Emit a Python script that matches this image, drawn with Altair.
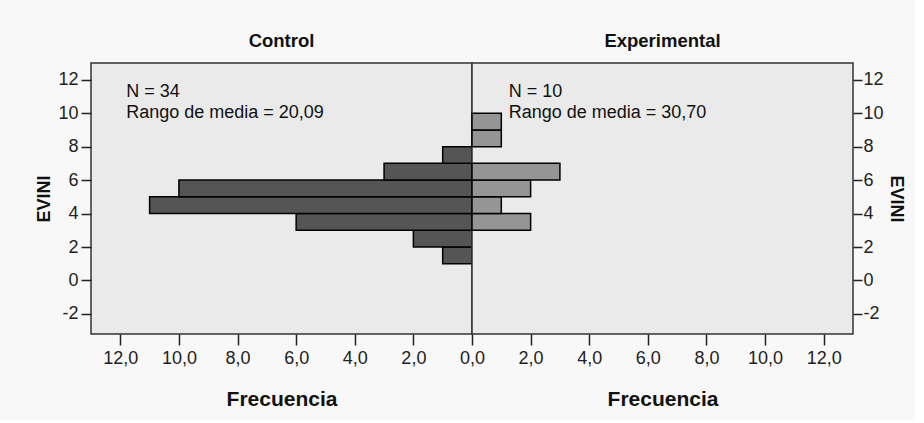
import altair as alt
import pandas as pd

# ---- data ----
control_bin_lo = [1, 2, 3, 4, 5, 6, 7]
control_freq = [1, 2, 6, 11, 10, 3, 1]
exp_bin_lo = [3, 4, 5, 6, 8, 9]
exp_freq = [2, 1, 2, 3, 1, 1]

panel_titles = ["Control", "Experimental"]
control_notes = ["N = 34", "Rango de media = 20,09"]
exp_notes = ["N = 10", "Rango de media = 30,70"]
note_y = 10.99          # baseline of the first note line (data units)
note_x_left = 11.8      # left edge of the note in the Control panel
note_x_right = 1.25     # left edge of the note in the Experimental panel

y_ticks = [-2, 0, 2, 4, 6, 8, 10, 12]
x_ticks = [0, 2, 4, 6, 8, 10, 12]

FONT = "Liberation Sans"
DARK = "#555555"
LIGHT = "#959595"

ctrl = pd.DataFrame({"lo": control_bin_lo, "freq": control_freq})
ctrl["hi"] = ctrl["lo"] + 1
ctrl["zero"] = 0
exp = pd.DataFrame({"lo": exp_bin_lo, "freq": exp_freq})
exp["hi"] = exp["lo"] + 1
exp["zero"] = 0

ctrl_notes = pd.DataFrame({"t": ["\n".join(control_notes)], "y": [note_y], "x": [note_x_left]})
exp_notes_df = pd.DataFrame({"t": ["\n".join(exp_notes)], "y": [note_y], "x": [note_x_right]})

W, H = 381, 271
y_scale = alt.Scale(domain=[-3.2, 13], nice=False, zero=False)
x_scale_left = alt.Scale(domain=[0, 13], reverse=True, nice=False)
x_scale_right = alt.Scale(domain=[0, 13], nice=False)
lbl = "replace(format(datum.value, '.1f'), '.', ',')"

def x_axis(values):
    return alt.Axis(values=values, labelExpr=lbl, title="Frecuencia", grid=False,
                    domain=False, tickSize=11, tickWidth=1.5, tickColor="#222222",
                    labelFontSize=18, labelFont=FONT, labelColor="#222222",
                    labelPadding=4, labelOverlap=False, labelFlush=False,
                    titleFont=FONT, titleFontSize=21,
                    titleFontWeight="bold", titleColor="#111111", titlePadding=21)

def y_axis(orient, tick, pad, tpad):
    return alt.Axis(values=y_ticks, orient=orient, title="EVINI",
                    grid=False, domain=False, tickSize=tick, tickWidth=1.5,
                    tickColor="#222222",
                    labelFontSize=18, labelFont=FONT, labelColor="#222222",
                    labelPadding=pad, labelExpr="datum.value + ''",
                    labelOverlap=False, labelFlush=False,
                    titleFont=FONT, titleFontSize=18, titleFontWeight="bold",
                    titleColor="#111111", titlePadding=tpad)

lx_axis = x_axis(x_ticks)
ly_axis = y_axis("left", 10, 3, 4)
rx_axis = x_axis(x_ticks[1:])
ry_axis = y_axis("right", 9, 1, 3)

note_mark = dict(align="left", baseline="alphabetic", fontSize=18, font=FONT,
                 color="#111111", lineBreak="\n", lineHeight=21)

left_bars = alt.Chart(ctrl).mark_bar(color=DARK, stroke="black", strokeWidth=1.5).encode(
    x=alt.X("freq:Q", scale=x_scale_left, axis=lx_axis),
    x2="zero:Q",
    y=alt.Y("lo:Q", scale=y_scale, axis=ly_axis),
    y2="hi:Q",
)
left_text = alt.Chart(ctrl_notes).mark_text(**note_mark).encode(
    x=alt.X("x:Q", scale=x_scale_left, axis=lx_axis),
    y=alt.Y("y:Q", scale=y_scale, axis=ly_axis), text="t:N")
left = alt.layer(left_bars, left_text).properties(
    width=W, height=H,
    title=alt.TitleParams(panel_titles[0], anchor="middle", fontSize=18.5, font=FONT,
                          fontWeight="bold", color="#111111", offset=13))

right_bars = alt.Chart(exp).mark_bar(color=LIGHT, stroke="black", strokeWidth=1.5).encode(
    x=alt.X("freq:Q", scale=x_scale_right, axis=rx_axis),
    x2="zero:Q",
    y=alt.Y("lo:Q", scale=y_scale, axis=ry_axis),
    y2="hi:Q",
)
right_text = alt.Chart(exp_notes_df).mark_text(**note_mark).encode(
    x=alt.X("x:Q", scale=x_scale_right, axis=rx_axis),
    y=alt.Y("y:Q", scale=y_scale, axis=ry_axis), text="t:N")
right = alt.layer(right_bars, right_text).properties(
    width=W, height=H,
    title=alt.TitleParams(panel_titles[1], anchor="middle", fontSize=18.5, font=FONT,
                          fontWeight="bold", color="#111111", offset=13))

chart = alt.hconcat(left, right, spacing=0, bounds="flush").properties(
    background="#F8F8F8",
    padding={"left": 35, "top": 30, "right": 10, "bottom": 10},
).configure_view(fill="#EAEAEA", stroke="#333333", strokeWidth=1.5)

chart.save("out.html", embed_options={"renderer": "svg", "actions": False})
